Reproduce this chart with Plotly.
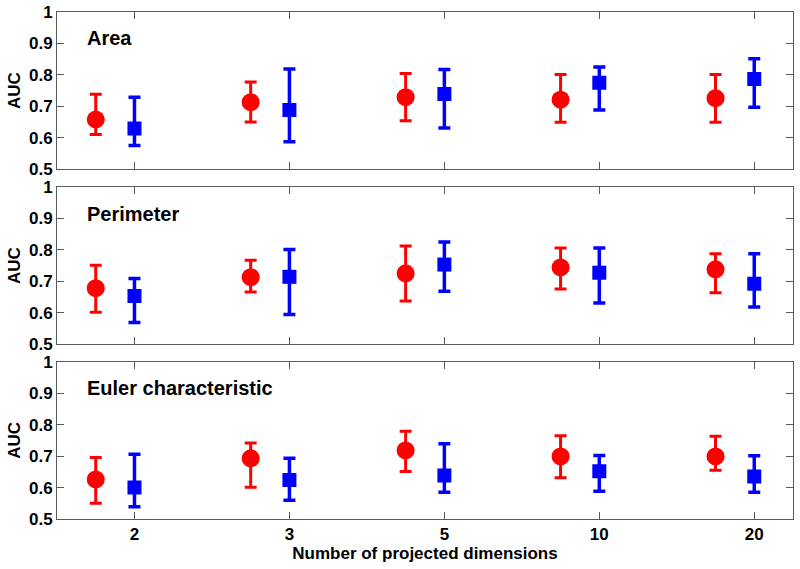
import plotly.graph_objects as go

categories = ["2", "3", "5", "10", "20"]
panels = ["Area", "Perimeter", "Euler characteristic"]

# Red circles (method A): mean, upper, lower
red_mean = [
    [0.658, 0.713, 0.729, 0.721, 0.726],
    [0.678, 0.713, 0.725, 0.744, 0.738],
    [0.626, 0.693, 0.718, 0.699, 0.699],
]
red_hi = [
    [0.738, 0.777, 0.804, 0.801, 0.801],
    [0.751, 0.767, 0.812, 0.806, 0.787],
    [0.696, 0.742, 0.779, 0.765, 0.763],
]
red_lo = [
    [0.610, 0.650, 0.654, 0.649, 0.649],
    [0.601, 0.666, 0.637, 0.675, 0.663],
    [0.550, 0.601, 0.651, 0.631, 0.655],
]
# Blue squares (method B)
blue_mean = [
    [0.629, 0.688, 0.739, 0.775, 0.787],
    [0.653, 0.714, 0.753, 0.727, 0.692],
    [0.600, 0.624, 0.638, 0.652, 0.635],
]
blue_hi = [
    [0.729, 0.819, 0.817, 0.825, 0.851],
    [0.709, 0.801, 0.825, 0.806, 0.787],
    [0.706, 0.693, 0.739, 0.702, 0.701],
]
blue_lo = [
    [0.575, 0.587, 0.631, 0.688, 0.697],
    [0.569, 0.594, 0.668, 0.631, 0.618],
    [0.539, 0.560, 0.585, 0.588, 0.585],
]

ytick_vals = [0.5, 0.6, 0.7, 0.8, 0.9, 1.0]
ytick_text = ["0.5", "0.6", "0.7", "0.8", "0.9", "1"]

FONT = "Liberation Sans, Arial, sans-serif"
AXC = "#5a5a5a"

fig = go.Figure()
pos = list(range(1, len(categories) + 1))
red_x = [p - 0.25 for p in pos]

domains = [[0.690, 1.0], [0.345, 0.655], [0.0, 0.310]]
label_y = [0.949, 0.6016, 0.258]

for k in range(3):
    xa = "x" if k == 0 else f"x{k+1}"
    ya = "y" if k == 0 else f"y{k+1}"
    fig.add_trace(go.Scatter(
        x=red_x, y=red_mean[k], mode="markers", xaxis=xa, yaxis=ya,
        marker=dict(symbol="circle", size=18, color="#ff0000"),
        error_y=dict(type="data", symmetric=False,
                     array=[h - m for h, m in zip(red_hi[k], red_mean[k])],
                     arrayminus=[m - l for m, l in zip(red_mean[k], red_lo[k])],
                     color="#ff0000", thickness=3, width=6),
        showlegend=False, hoverinfo="skip"))
    fig.add_trace(go.Scatter(
        x=pos, y=blue_mean[k], mode="markers", xaxis=xa, yaxis=ya,
        marker=dict(symbol="square", size=14, color="#0000ff"),
        error_y=dict(type="data", symmetric=False,
                     array=[h - m for h, m in zip(blue_hi[k], blue_mean[k])],
                     arrayminus=[m - l for m, l in zip(blue_mean[k], blue_lo[k])],
                     color="#0000ff", thickness=3.5, width=6),
        showlegend=False, hoverinfo="skip"))

    xkey = "xaxis" if k == 0 else f"xaxis{k+1}"
    ykey = "yaxis" if k == 0 else f"yaxis{k+1}"
    fig.layout[xkey] = dict(
        domain=[0, 1], anchor=ya, range=[0.5, 5.25], automargin=False,
        tickvals=pos, ticktext=[f"<b>{c}</b>" for c in categories], showticklabels=(k == 2),
        ticks="inside", ticklen=7, tickcolor=AXC, tickwidth=1,
        showline=True, linecolor=AXC, linewidth=1, mirror="ticks",
        showgrid=False, zeroline=False,
        tickfont=dict(family=FONT, size=17, color="black"),
    )
    fig.layout[ykey] = dict(
        domain=domains[k], anchor=xa, range=[0.5, 1.0], automargin=False,
        tickvals=ytick_vals, ticktext=[f"<b>{t}</b>" for t in ytick_text],
        ticks="inside", ticklen=7, tickcolor=AXC, tickwidth=1,
        showline=True, linecolor=AXC, linewidth=1, mirror="ticks",
        showgrid=False, zeroline=False,
        tickfont=dict(family=FONT, size=17, color="black"),
        title=dict(text="<b>AUC</b>", font=dict(family=FONT, size=17, color="black"), standoff=4),
    )
    fig.add_annotation(
        text=f"<b>{panels[k]}</b>", xref="paper", yref="paper",
        x=0.038, y=label_y[k], xanchor="left", yanchor="middle",
        showarrow=False, font=dict(family=FONT, size=20, color="black"))

fig.layout.xaxis3.title = dict(text="<b>Number of projected dimensions</b>",
                               font=dict(family=FONT, size=17, color="black"), standoff=2)

fig.update_layout(
    width=800, height=569,
    margin=dict(l=57, r=7, t=12, b=50),
    paper_bgcolor="white", plot_bgcolor="white",
    font=dict(family=FONT, color="black"),
)

fig.write_html("out.html", config={"displayModeBar": False},
               post_script="document.body.style.margin='0';document.body.style.overflow='hidden';")
